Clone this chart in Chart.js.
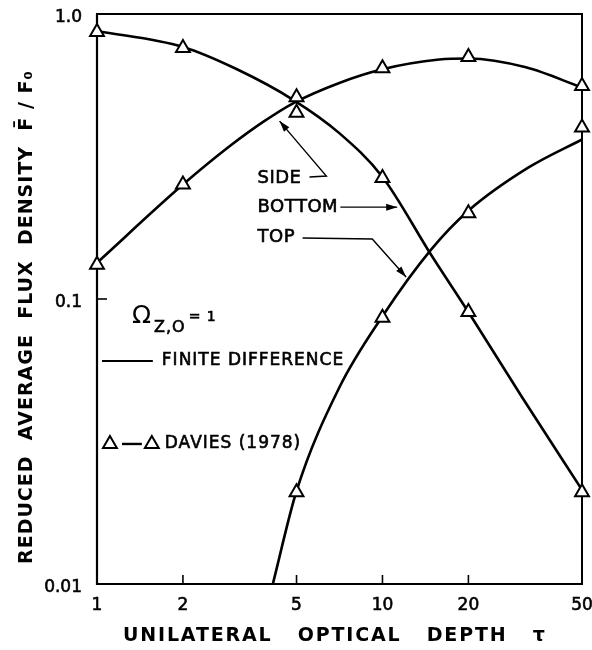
<!DOCTYPE html>
<html><head><meta charset="utf-8">
<script src="https://cdn.jsdelivr.net/npm/chart.js@4.4.1/dist/chart.umd.min.js"></script>
<style>html,body{margin:0;padding:0;background:#fff;}#wrap{width:592px;height:650px;}</style>
</head><body><div id="wrap"><canvas id="c" width="592" height="650"></canvas></div>
<script>
// ---- data ----
const xTicks = [1, 2, 5, 10, 20, 50];
const xTickLabels = ['1', '2', '5', '10', '20', '50'];
const yTicks = [0.01, 0.1, 1];
const yTickLabels = ['0.01', '0.1', '1.0'];

// finite-difference curves
const tauBottomFD = [1, 2, 3.08, 4.88, 7.06, 10, 14.8, 20, 30.8, 50];
const bottomFD = [0.872, 0.766, 0.641, 0.499, 0.382, 0.268, 0.143, 0.09, 0.0453, 0.0214];
const tauSideFD = [1, 2, 2.92, 3.83, 4.88, 7.06, 10, 15.8, 20, 31.8, 50];
const sideFD = [0.134, 0.252, 0.344, 0.419, 0.487, 0.573, 0.64, 0.692, 0.698, 0.65, 0.552];
const tauTopFD = [4.13, 5, 7.06, 10, 14.8, 20, 32.6, 50];
const topFD = [0.01, 0.0212, 0.0489, 0.087, 0.149, 0.204, 0.29, 0.363];

// Davies (1978) triangles
const tauDavies = [1, 2, 5, 10, 20, 50];
const bottomDavies = [0.865, 0.76, 0.51, 0.266, 0.09, 0.021];
const sideDavies = [0.132, 0.252, 0.45, 0.645, 0.707, 0.559];
const tauTopDavies = [5, 10, 20, 50];
const topDavies = [0.021, 0.086, 0.2, 0.4];

const curveNames = ['SIDE', 'BOTTOM', 'TOP'];
const legendLine = 'FINITE DIFFERENCE';
const legendMarks = 'DAVIES (1978)';
const xTitle = 'UNILATERAL   OPTICAL   DEPTH   \u03C4';
const yTitle = 'REDUCED  AVERAGE  FLUX  DENSITY  F\u0304 / F\u2080';

// ---- annotation placement (data coordinates) ----
const notePos = {
  SIDE: {text: [3.65, 0.266], path: [[5.55, 0.268], [6.36, 0.270], [4.36, 0.421]]},
  BOTTOM: {text: [3.65, 0.21], path: [[7.12, 0.21], [11.26, 0.21]]},
  TOP: {text: [3.65, 0.165], path: [[5.25, 0.1637], [9.21, 0.1623], [12.1, 0.1195]]}
};
const omegaPos = [1.325, 0.0824];
const legendPos = {line: [[1.041, 0.0606], [1.569, 0.0606]], text: [1.687, 0.0606],
  tri1: [1.11, 0.031], tri2: [1.556, 0.031], dash: [[1.223, 0.031], [1.436, 0.031]], text2: [1.728, 0.031]};

const FONT = '"DejaVu Sans", sans-serif';
const TRI_R = 8;
const pts = (xs, ys) => xs.map((x, i) => ({x: x, y: ys[i]}));

const lineDs = (lbl, data) => ({label: lbl, data: data, showLine: true, borderColor: '#000', borderWidth: 2.6,
  pointRadius: 0, cubicInterpolationMode: 'monotone', fill: false, order: 2});
const triDs = (lbl, data) => ({label: lbl, data: data, showLine: false, pointStyle: 'triangle', pointRadius: TRI_R,
  pointBackgroundColor: '#fff', pointBorderColor: '#000', pointBorderWidth: 2, order: 1, clip: false});

function arrow(ctx, p) {
  ctx.beginPath();
  ctx.moveTo(p[0][0], p[0][1]);
  for (let i = 1; i < p.length; i++) ctx.lineTo(p[i][0], p[i][1]);
  ctx.stroke();
  const [x1, y1] = p[p.length - 2], [x2, y2] = p[p.length - 1];
  const a = Math.atan2(y2 - y1, x2 - x1), L = 11, W = 3.5;
  ctx.beginPath();
  ctx.moveTo(x2, y2);
  ctx.lineTo(x2 - L * Math.cos(a) + W * Math.sin(a), y2 - L * Math.sin(a) - W * Math.cos(a));
  ctx.lineTo(x2 - L * Math.cos(a) - W * Math.sin(a), y2 - L * Math.sin(a) + W * Math.cos(a));
  ctx.closePath();
  ctx.fill();
}
function tri(ctx, x, y) {
  ctx.beginPath();
  for (let k = 0; k < 3; k++) {
    const ang = k * 2 * Math.PI / 3;
    const px = x + Math.sin(ang) * TRI_R, py = y - Math.cos(ang) * TRI_R;
    k === 0 ? ctx.moveTo(px, py) : ctx.lineTo(px, py);
  }
  ctx.closePath();
  ctx.fillStyle = '#fff'; ctx.fill();
  ctx.lineWidth = 2; ctx.strokeStyle = '#000'; ctx.stroke();
  ctx.fillStyle = '#000';
}
// text with a light outline so it reads as heavy as the lettering of the original
function heavyText(ctx, text, x, y) {
  ctx.lineWidth = 0.6;
  ctx.strokeText(text, x, y);
  ctx.fillText(text, x, y);
}
// text fitted to a target length by adjusting the letter spacing
function spacedText(ctx, text, cx, cy, target) {
  ctx.letterSpacing = '0px';
  const w0 = ctx.measureText(text).width;
  const n = [...text].length;
  const sp = Math.max(0, (target - w0) / Math.max(1, n - 1));
  ctx.letterSpacing = sp.toFixed(2) + 'px';
  ctx.textAlign = 'left';
  ctx.fillText(text, cx - target / 2, cy);
}

const decor = {
  id: 'decor',
  beforeDatasetsDraw(chart) {
    const {ctx, chartArea: ca, scales: {x, y}} = chart;
    ctx.save();
    ctx.strokeStyle = '#000';
    ctx.lineWidth = 2;
    ctx.strokeRect(ca.left, ca.top, ca.right - ca.left, ca.bottom - ca.top);
    ctx.lineWidth = 2.2;
    ctx.beginPath(); ctx.moveTo(ca.left, ca.top); ctx.lineTo(ca.left, ca.bottom); ctx.lineTo(ca.right, ca.bottom); ctx.stroke();
    ctx.lineWidth = 1.6;
    xTicks.slice(1, -1).forEach(v => {
      const px = x.getPixelForValue(v);
      ctx.beginPath(); ctx.moveTo(px, ca.bottom); ctx.lineTo(px, ca.bottom - 9); ctx.stroke();
    });
    yTicks.slice(1, -1).forEach(v => {
      const py = y.getPixelForValue(v);
      ctx.beginPath(); ctx.moveTo(ca.left, py); ctx.lineTo(ca.left + 10, py); ctx.stroke();
    });
    // y tick labels, placed with the y scale
    ctx.fillStyle = '#000';
    ctx.font = '17px ' + FONT;
    ctx.textAlign = 'right'; ctx.textBaseline = 'middle';
    yTicks.forEach((v, i) => heavyText(ctx, yTickLabels[i], ca.left - 15, y.getPixelForValue(v) + 4));
    ctx.restore();
  },
  afterDraw(chart) {
    const {ctx, chartArea: ca, scales: {x, y}} = chart;
    const P = (d) => [x.getPixelForValue(d[0]), y.getPixelForValue(d[1])];
    ctx.save();
    ctx.fillStyle = '#000'; ctx.strokeStyle = '#000';
    // curve labels + arrows
    ctx.font = '18px ' + FONT;
    ctx.textAlign = 'left'; ctx.textBaseline = 'middle';
    ctx.letterSpacing = '0.5px';
    curveNames.forEach(n => {
      const p = P(notePos[n].text);
      heavyText(ctx, n, p[0], p[1]);
      ctx.lineWidth = 1.4;
      arrow(ctx, notePos[n].path.map(P));
    });
    // Omega label
    const o = P(omegaPos);
    ctx.textBaseline = 'alphabetic';
    ctx.letterSpacing = '0px';
    ctx.font = '25px ' + FONT;
    ctx.fillText('\u03A9', o[0], o[1]);
    const ow = ctx.measureText('\u03A9').width;
    ctx.font = '16px ' + FONT;
    ctx.letterSpacing = '1px';
    heavyText(ctx, 'Z,O', o[0] + ow + 3, o[1] + 9);
    const zw = ctx.measureText('Z,O').width;
    ctx.font = '14px ' + FONT;
    heavyText(ctx, '= 1', o[0] + ow + zw + 6, o[1] - 2);
    // legend
    ctx.lineWidth = 2;
    const l1 = legendPos.line.map(P);
    ctx.beginPath(); ctx.moveTo(l1[0][0], l1[0][1]); ctx.lineTo(l1[1][0], l1[1][1]); ctx.stroke();
    ctx.font = '17px ' + FONT; ctx.textBaseline = 'middle'; ctx.letterSpacing = '1px';
    let t = P(legendPos.text); heavyText(ctx, legendLine, t[0], t[1]);
    const d = legendPos.dash.map(P);
    ctx.lineWidth = 2.4;
    ctx.beginPath(); ctx.moveTo(d[0][0], d[0][1]); ctx.lineTo(d[1][0], d[1][1]); ctx.stroke();
    let a = P(legendPos.tri1); tri(ctx, a[0], a[1]);
    a = P(legendPos.tri2); tri(ctx, a[0], a[1]);
    t = P(legendPos.text2); heavyText(ctx, legendMarks, t[0], t[1]);
    // axis titles
    ctx.font = 'bold 19px ' + FONT;
    ctx.textBaseline = 'middle';
    spacedText(ctx, xTitle, 334, 636, 422);
    ctx.translate(27, 317);
    ctx.rotate(-Math.PI / 2);
    spacedText(ctx, yTitle, 0, 0, 494);
    ctx.restore();
  }
};

new Chart(document.getElementById('c'), {
  type: 'scatter',
  data: {
    datasets: [
      lineDs('Bottom (finite difference)', pts(tauBottomFD, bottomFD)),
      lineDs('Side (finite difference)', pts(tauSideFD, sideFD)),
      lineDs('Top (finite difference)', pts(tauTopFD, topFD)),
      triDs('Bottom (Davies 1978)', pts(tauDavies, bottomDavies)),
      triDs('Side (Davies 1978)', pts(tauDavies, sideDavies)),
      triDs('Top (Davies 1978)', pts(tauTopDavies, topDavies))
    ]
  },
  options: {
    responsive: false, animation: false, events: [],
    layout: {padding: {top: 14, right: 8, left: 0, bottom: 0}},
    plugins: {legend: {display: false}, tooltip: {enabled: false}, title: {display: false}},
    scales: {
      x: {
        type: 'logarithmic', min: 1, max: 50,
        grid: {display: false, drawTicks: false}, border: {display: false},
        afterBuildTicks: s => { s.ticks = xTicks.map(v => ({value: v})); },
        afterFit: s => { s.height = 66; s.paddingLeft = 0; s.paddingRight = 0; },
        ticks: {padding: 11, color: '#000', font: {family: FONT, size: 17}, maxRotation: 0,
          textStrokeColor: '#000', textStrokeWidth: 0.6,
          callback: v => xTickLabels[xTicks.indexOf(v)]}
      },
      y: {
        type: 'logarithmic', min: 0.01, max: 1,
        grid: {display: false, drawTicks: false}, border: {display: false},
        afterBuildTicks: s => { s.ticks = yTicks.map(v => ({value: v})); },
        afterFit: s => { s.width = 97; s.paddingTop = 0; s.paddingBottom = 0; },
        ticks: {display: false}
      }
    }
  },
  plugins: [decor]
});
</script></body></html>
